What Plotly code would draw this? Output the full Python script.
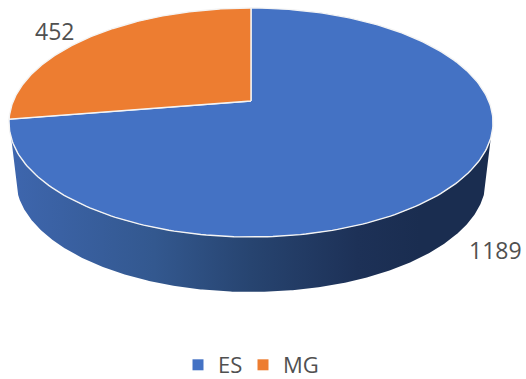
import numpy as np
import plotly.graph_objects as go

categories = ["ES", "MG"]
values = [1189, 452]
colors = ["#4472C4", "#ED7D31"]

W, H = 526, 379
LEGEND_OVERHANG = 7  # the legend box's empty padding runs past the window's bottom edge
CX, APEX_Y = 251.0, 101.0
TOP_Y, BOTTOM_Y, HALF_W = 8.0, 237.0, 242.0
EL_CY = (TOP_Y + BOTTOM_Y) / 2

# Perspective mapping of the pie's unit circle on to the tilted disc
c = (2 * APEX_Y - TOP_Y - BOTTOM_Y) / (TOP_Y - BOTTOM_Y)
a = TOP_Y * (1 + c) - APEX_Y
d = HALF_W * np.sqrt(1 - c * c)


def top_point(theta):
    X, Y = -np.sin(theta), np.cos(theta)
    den = 1 + c * Y
    return CX + d * X / den, (a * Y + APEX_Y) / den


def wedge(t0, t1):
    t = np.linspace(t0, t1, 240)
    x, y = top_point(t)
    return np.r_[CX, x, CX], np.r_[APEX_Y, y, APEX_Y]


total = sum(values)
sweep_mg = 2 * np.pi * values[1] / total

fig = go.Figure()

# Side wall of the disc: lower rim is the upper one shifted down, slightly smaller
LOW_CY, LOW_K, LOW_KY = 180.0, 0.971, 0.978
WALL_START = 1.891
front = np.linspace(WALL_START, 2 * np.pi - WALL_START, 400)
px_, py_ = top_point(front)
qx, qy = CX + LOW_K * (px_ - CX), LOW_CY + LOW_KY * (py_ - EL_CY)
fig.add_trace(go.Scatter(
    x=np.r_[px_, qx[::-1], px_[0]], y=np.r_[py_, qy[::-1], py_[0]],
    mode="lines", line=dict(width=0), fill="toself", hoverinfo="skip", showlegend=False,
    fillgradient=dict(
        type="horizontal", start=9, stop=493,
        colorscale=[[0, "#3E66AE"], [0.3, "#33588F"], [0.5, "#274470"],
                    [0.72, "#1D3157"], [0.85, "#1A2D50"], [1, "#1A2D50"]],
    ),
))

# Top faces
for name, col, (t0, t1) in zip(categories, colors,
                               [(sweep_mg, 2 * np.pi), (0, sweep_mg)]):
    x, y = wedge(t0, t1)
    fig.add_trace(go.Scatter(
        x=x, y=y, mode="lines", fill="toself", fillcolor=col,
        line=dict(color="#F4F4F4", width=1.4), hoverinfo="skip", showlegend=False,
    ))

# Legend entries, each in its own legend box
for name, col, leg in zip(categories, colors, ["legend", "legend2"]):
    fig.add_trace(go.Scatter(
        x=[None], y=[None], mode="markers", name=name, legend=leg,
        marker=dict(symbol="square", size=11, color=col),
    ))

# Data labels
fig.add_annotation(x=495, y=250, text=str(values[0]), showarrow=False, font=dict(size=23))
fig.add_annotation(x=54.5, y=31, text=str(values[1]), showarrow=False, font=dict(size=23))

leg_common = dict(orientation="h", xanchor="left", y=-LEGEND_OVERHANG / H, yanchor="bottom",
                  bgcolor="rgba(0,0,0,0)", itemwidth=30, font=dict(size=22),
                  borderwidth=0)
fig.update_layout(
    width=W, height=H + LEGEND_OVERHANG,
    margin=dict(l=0, r=0, t=0, b=LEGEND_OVERHANG),
    paper_bgcolor="white", plot_bgcolor="white",
    font=dict(family="Open Sans", size=22, color="#505050"),
    xaxis=dict(range=[0, W], visible=False, fixedrange=True),
    yaxis=dict(range=[H, 0], visible=False, fixedrange=True),
    legend=dict(x=178 / W, **leg_common),
    legend2=dict(x=243 / W, **leg_common),
)
fig.write_html("out.html", config=dict(displayModeBar=False),
               post_script="document.documentElement.style.overflow='hidden';"
                           "document.body.style.margin='0';")
